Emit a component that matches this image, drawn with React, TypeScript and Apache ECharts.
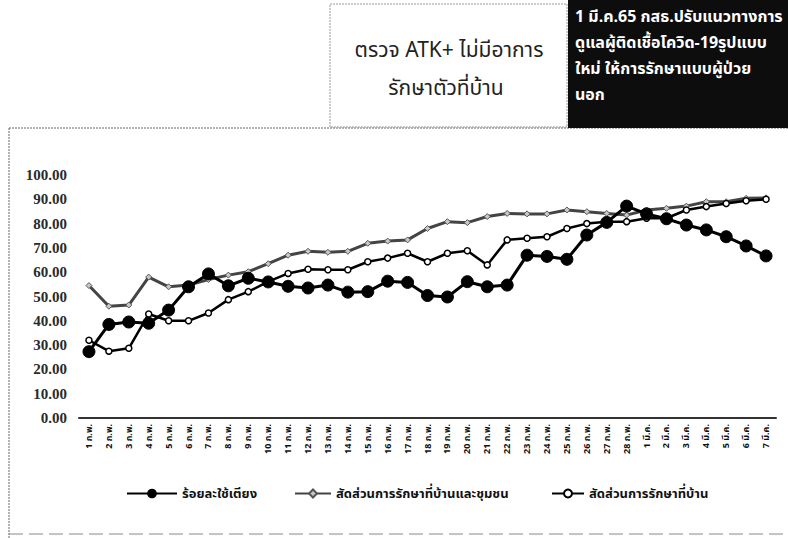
import React, { useEffect, useRef } from "react";
import * as echarts from "echarts";

const categories = [
  "1 ก.พ.", "2 ก.พ.", "3 ก.พ.", "4 ก.พ.", "5 ก.พ.", "6 ก.พ.", "7 ก.พ.",
  "8 ก.พ.", "9 ก.พ.", "10 ก.พ.", "11 ก.พ.", "12 ก.พ.", "13 ก.พ.", "14 ก.พ.",
  "15 ก.พ.", "16 ก.พ.", "17 ก.พ.", "18 ก.พ.", "19 ก.พ.", "20 ก.พ.", "21 ก.พ.",
  "22 ก.พ.", "23 ก.พ.", "24 ก.พ.", "25 ก.พ.", "26 ก.พ.", "27 ก.พ.", "28 ก.พ.",
  "1 มี.ค.", "2 มี.ค.", "3 มี.ค.", "4 มี.ค.", "5 มี.ค.", "6 มี.ค.", "7 มี.ค.",
];

const seriesNames = [
  "ร้อยละใช้เตียง",
  "สัดส่วนการรักษาที่บ้านและชุมชน",
  "สัดส่วนการรักษาที่บ้าน",
];

const bedOccupancy = [
  27.3, 38.5, 39.5, 39.0, 44.4, 54.0, 59.3, 54.4, 57.5, 56.0,
  54.2, 53.5, 54.7, 51.8, 52.0, 56.3, 55.8, 50.4, 49.8, 56.1,
  54.0, 54.7, 67.0, 66.5, 65.3, 75.3, 80.5, 87.2, 84.0, 82.0,
  79.4, 77.4, 74.6, 70.8, 66.7,
];

const homeCommunity = [
  54.5, 46.0, 46.5, 58.0, 54.0, 54.7, 57.0, 58.8, 60.2, 63.5,
  67.0, 68.6, 68.2, 68.6, 71.9, 72.8, 73.3, 78.0, 80.8, 80.4,
  82.9, 84.2, 84.0, 84.0, 85.6, 84.9, 84.2, 83.5, 85.6, 86.3,
  87.2, 89.0, 89.0, 90.4, 90.6,
];

const homeIsolation = [
  32.0, 27.5, 28.7, 42.8, 40.0, 40.0, 43.2, 48.7, 52.0, 56.1,
  59.5, 61.2, 61.0, 61.0, 64.3, 65.8, 67.8, 64.3, 67.8, 68.8,
  63.0, 73.3, 74.0, 74.6, 78.0, 80.0, 80.8, 80.8, 82.2, 82.2,
  85.6, 87.0, 88.3, 89.4, 90.0,
];

const boxLines = ["ตรวจ ATK+ ไม่มีอาการ", "รักษาตัวที่บ้าน"];
const noteLines = [
  "1 มี.ค.65 กสธ.ปรับแนวทางการ",
  "ดูแลผู้ติดเชื้อโควิด-19รูปแบบ",
  "ใหม่ ให้การรักษาแบบผู้ป่วย",
  "นอก",
];

const THAI = '"Noto Sans Thai", "Noto Sans Thai UI", "Noto Sans", "DejaVu Sans", sans-serif';

export default function App() {
  const ref = useRef<HTMLDivElement>(null);
  useEffect(() => {
    if (!ref.current) return;
    const chart = echarts.init(ref.current, undefined, { renderer: "svg" });
    const legendText = { fontFamily: THAI, fontSize: 13, color: "#111", fontWeight: "bold" as const };
    chart.setOption({
      animation: false,
      backgroundColor: "#ffffff",
      grid: { left: 79, right: 12, top: 175, bottom: 120, containLabel: false },
      xAxis: {
        type: "category",
        data: categories,
        boundaryGap: true,
        axisLine: { show: true, lineStyle: { color: "#333", width: 2 } },
        axisTick: { show: false },
        axisLabel: {
          rotate: 90,
          interval: 0,
          fontFamily: THAI,
          fontSize: 9,
          fontWeight: "bold",
          color: "#111",
          margin: 6,
        },
        splitLine: { show: false },
      },
      yAxis: {
        type: "value",
        min: 0,
        max: 100,
        interval: 10,
        axisLine: { show: false },
        axisTick: { show: false },
        splitLine: { show: false },
        axisLabel: {
          formatter: (v: number) => v.toFixed(2),
          fontFamily: '"Liberation Serif", serif',
          fontSize: 15,
          fontWeight: "bold",
          color: "#2a2a2a",
          margin: 12,
        },
      },
      legend: [
        {
          data: [seriesNames[0]],
          left: 121,
          top: 482,
          itemWidth: 50,
          itemHeight: 12,
          itemGap: 6,
          textStyle: legendText,
        },
        {
          data: [seriesNames[1]],
          left: 289,
          top: 482,
          itemWidth: 36,
          itemHeight: 10,
          textStyle: legendText,
        },
        {
          data: [seriesNames[2]],
          left: 546,
          top: 482,
          itemWidth: 32,
          itemHeight: 10,
          textStyle: legendText,
        },
      ],
      series: [
        {
          name: seriesNames[1],
          type: "line",
          data: homeCommunity,
          z: 2,
          symbol: "diamond",
          symbolSize: 6,
          lineStyle: { color: "#444", width: 3 },
          itemStyle: { color: "#c8c8c8", borderColor: "#555", borderWidth: 1 },
        },
        {
          name: seriesNames[2],
          type: "line",
          data: homeIsolation,
          z: 3,
          symbol: "circle",
          symbolSize: 6,
          lineStyle: { color: "#000", width: 2.5 },
          itemStyle: { color: "#ffffff", borderColor: "#000", borderWidth: 1.5 },
        },
        {
          name: seriesNames[0],
          type: "line",
          data: bedOccupancy,
          z: 4,
          symbol: "circle",
          symbolSize: 12,
          lineStyle: { color: "#000", width: 3 },
          itemStyle: { color: "#000", borderColor: "#000" },
        },
      ],
      graphic: [
        { type: "line", shape: { x1: 9, y1: 128, x2: 788, y2: 128 }, style: { stroke: "#666", lineWidth: 1, lineDash: [2, 1] } },
        { type: "line", shape: { x1: 9, y1: 128, x2: 9, y2: 538 }, style: { stroke: "#666", lineWidth: 1, lineDash: [2, 1] } },
        { type: "line", shape: { x1: 9, y1: 534, x2: 788, y2: 534 }, style: { stroke: "#888", lineWidth: 1, lineDash: [14, 6] } },
        { type: "rect", shape: { x: 330, y: 4, width: 237, height: 123 }, style: { fill: "#fff", stroke: "#999", lineWidth: 1, lineDash: [2, 1] } },
        { type: "text", x: 449, y: 50, style: { text: boxLines[0], fill: "#222", fontFamily: THAI, fontSize: 21, textAlign: "center", textVerticalAlign: "middle" } },
        { type: "text", x: 446, y: 88, style: { text: boxLines[1], fill: "#222", fontFamily: THAI, fontSize: 21, textAlign: "center", textVerticalAlign: "middle" } },
        { type: "rect", shape: { x: 568, y: 0, width: 220, height: 128 }, style: { fill: "#0d0d0d" } },
        ...noteLines.map((t, i) => ({
          type: "text",
          x: 575,
          y: 17 + i * 26,
          style: { text: t, fill: "#fff", fontFamily: THAI, fontSize: 16, fontWeight: "bold", textAlign: "left", textVerticalAlign: "middle" },
        })),
      ],
    });
    return () => chart.dispose();
  }, []);
  return (
    <div
      ref={ref}
      style={{ position: "fixed", left: 0, top: 0, width: 788, height: 538, background: "#fff" }}
    />
  );
}
